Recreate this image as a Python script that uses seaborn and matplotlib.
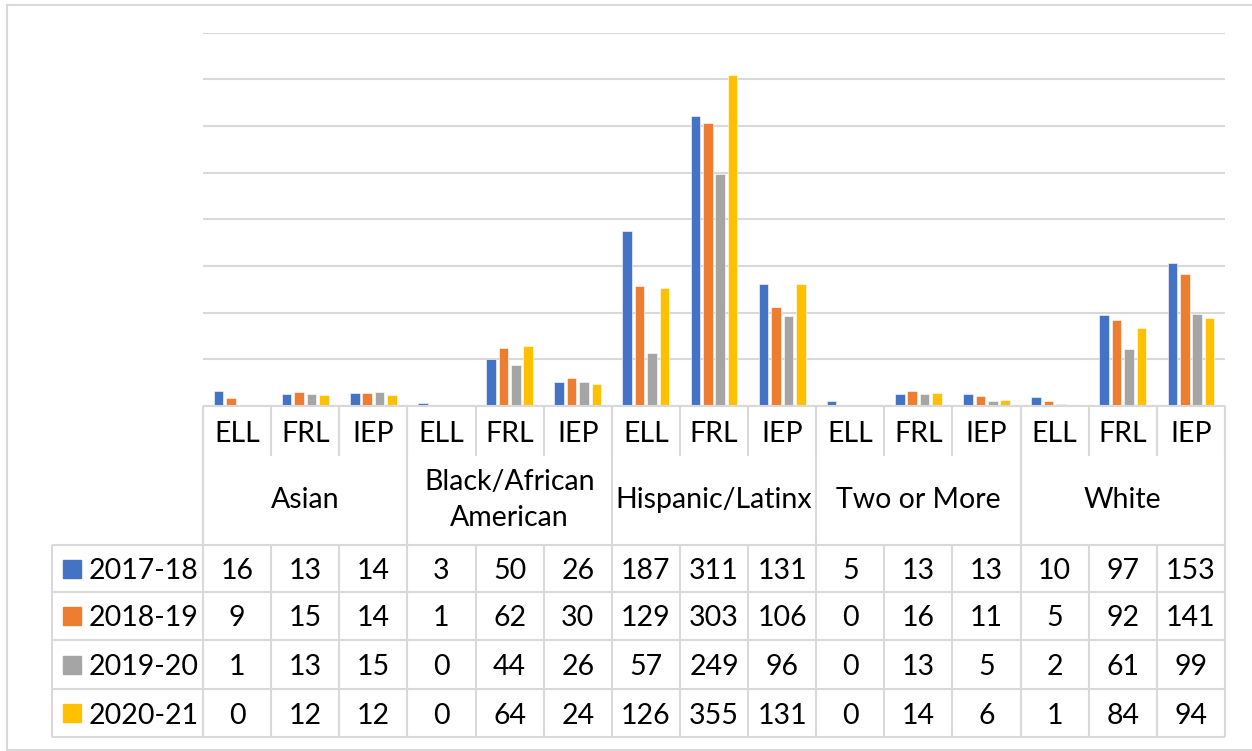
import matplotlib
matplotlib.use("Agg")
import matplotlib.pyplot as plt
from matplotlib.lines import Line2D
import seaborn as sns
import pandas as pd

groups = ["Asian", "Black/African\nAmerican", "Hispanic/Latinx", "Two or More", "White"]
subcats = ["ELL", "FRL", "IEP"]
years = ["2017-18", "2018-19", "2019-20", "2020-21"]
v2017_18 = [16, 13, 14, 3, 50, 26, 187, 311, 131, 5, 13, 13, 10, 97, 153]
v2018_19 = [9, 15, 14, 1, 62, 30, 129, 303, 106, 0, 16, 11, 5, 92, 141]
v2019_20 = [1, 13, 15, 0, 44, 26, 57, 249, 96, 0, 13, 5, 2, 61, 99]
v2020_21 = [0, 12, 12, 0, 64, 24, 126, 355, 131, 0, 14, 6, 1, 84, 94]
colors = ["#4472C4", "#ED7D31", "#A5A5A5", "#FFC000"]

series = [v2017_18, v2018_19, v2019_20, v2020_21]
cats = [f"{g}|{s}" for g in groups for s in subcats]
rows = []
for yr, vals in zip(years, series):
    for c, v in zip(cats, vals):
        rows.append({"cat": c, "year": yr, "value": v})
df = pd.DataFrame(rows)

sns.set_style("white")
plt.rcParams["font.family"] = ["Lato", "DejaVu Sans"]

W, H = 1252, 751
fig = plt.figure(figsize=(W / 100, H / 100), dpi=100)

def fx(x):
    return x / W

def fy(y):
    return 1 - y / H

L, R, T, B = 203, 1225, 32.7, 406
ax = fig.add_axes([fx(L), fy(B), fx(R) - fx(L), fy(T) - fy(B)])
sns.barplot(data=df, x="cat", y="value", hue="year", order=cats, hue_order=years,
            palette=colors, saturation=1, width=0.728, gap=0.23, ax=ax, legend=False,
            edgecolor="white", linewidth=0.4)
ax.set_xlim(-0.5, 14.5)
ax.set_ylim(0, 400)
ax.set_yticks(range(0, 401, 50))
ax.yaxis.grid(True, color="#d9d9d9", linewidth=1.5)
ax.set_axisbelow(True)
ax.set_xlabel("")
ax.set_ylabel("")
ax.set_xticklabels([])
ax.set_yticklabels([])
ax.tick_params(length=0)
for s in ax.spines.values():
    s.set_visible(False)

LC = "#d9d9d9"
LW = 1.5

def hline(y, x0, x1):
    fig.add_artist(Line2D([fx(x0), fx(x1)], [fy(y), fy(y)], color=LC, lw=LW, solid_capstyle="butt"))

def vline(x, y0, y1):
    fig.add_artist(Line2D([fx(x), fx(x)], [fy(y0), fy(y1)], color=LC, lw=LW, solid_capstyle="butt"))

colw = (R - L) / 15
def cx(k):
    return L + k * colw

# outer border
hline(4.5, 6, W)
vline(6.5, 4.5, 749.5)
hline(749.5, 6, W)

# table lines
hline(B, L, R)
for k in range(16):
    vline(cx(k), B, 456)
for k in range(0, 16, 3):
    vline(cx(k), B, 545)
row_y = [545, 592, 640, 689, 737]
for y in row_y:
    hline(y, 52, R)
vline(52, 545, 737)
for k in range(16):
    vline(cx(k), 545, 737)

FS = 20.5
TC = "#000000"
# subcategory labels
for i, c in enumerate(cats):
    sub = c.split("|")[1]
    fig.text(fx(cx(i) + colw / 2), fy(432), sub, ha="center", va="center_baseline", fontsize=FS, color=TC)
# group labels
for gi, g in enumerate(groups):
    fig.text(fx(cx(gi * 3) + 1.5 * colw), fy(500), g, ha="center", va="center", fontsize=FS,
             color=TC, linespacing=1.45, multialignment="center")
# data rows
for ri, (yr, vals) in enumerate(zip(years, series)):
    yc = (row_y[ri] + row_y[ri + 1]) / 2
    fig.patches.append(plt.Rectangle((fx(63), fy(yc + 9)), fx(18), 18 / H, color=colors[ri],
                                     transform=fig.transFigure, figure=fig))
    fig.text(fx(89), fy(yc), yr, ha="left", va="center_baseline", fontsize=FS, color=TC)
    for i, v in enumerate(vals):
        fig.text(fx(cx(i) + colw / 2), fy(yc), str(v), ha="center", va="center_baseline",
                 fontsize=FS, color=TC)

fig.savefig("out.png", dpi=100)
